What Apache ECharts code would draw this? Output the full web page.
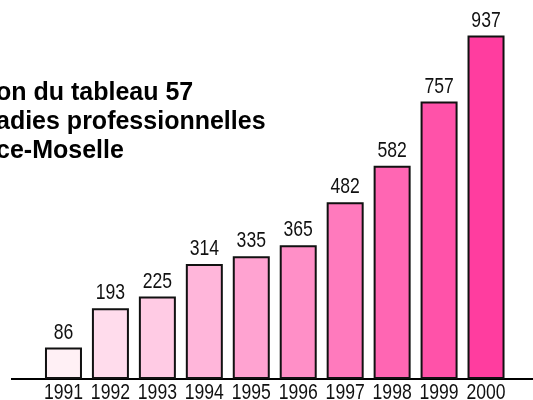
<!DOCTYPE html>
<html>
<head>
<meta charset="utf-8">
<script src="https://cdn.jsdelivr.net/npm/echarts@6/dist/echarts.min.js"></script>
<style>
  html, body { margin: 0; padding: 0; background: #fff; }
  #main { width: 533px; height: 400px; }
</style>
</head>
<body>
<div id="main"></div>
<script>
var chart = echarts.init(document.getElementById('main'));

// données
var years = ['1991', '1992', '1993', '1994', '1995', '1996', '1997', '1998', '1999', '2000'];
var values = [86, 193, 225, 314, 335, 365, 482, 582, 757, 937];
var barColors = ['#fff0f5', '#ffdcec', '#ffcbe4', '#ffb6da', '#ffa3d1', '#ff8fc7', '#ff7abd', '#ff66b3', '#ff52a9', '#ff3d9f'];
var titleLines = ['on du tableau 57', 'adies professionnelles', 'ce-Moselle'];

// texte étroit : pas de police condensée installée, on compresse horizontalement
function narrowText(x, y, txt) {
  return {
    type: 'text',
    x: x,
    y: y,
    scaleX: 0.8,
    style: {
      text: txt,
      fontFamily: "'Liberation Sans', Arial, sans-serif",
      fontSize: 22,
      fill: '#111',
      align: 'center',
      verticalAlign: 'middle'
    }
  };
}

var option = {
  animation: false,
  title: {
    text: titleLines.join('\n'),
    left: -4,
    top: 79,
    padding: 0,
    textStyle: {
      fontFamily: "'Liberation Sans', Arial, sans-serif",
      fontWeight: 'bold',
      fontSize: 25,
      lineHeight: 29,
      color: '#000'
    }
  },
  grid: {
    left: 40,
    right: 23.5,
    top: 12.5,
    bottom: 21
  },
  xAxis: {
    type: 'category',
    data: years,
    axisLine: { show: false },
    axisTick: { show: false },
    axisLabel: { show: false }
  },
  yAxis: {
    type: 'value',
    min: 0,
    max: 1000,
    show: false,
    splitLine: { show: false }
  },
  graphic: [{
    type: 'line',
    shape: { x1: 11, y1: 379, x2: 533, y2: 379 },
    style: { stroke: '#000', lineWidth: 2 },
    z: 1
  }],
  series: [{
    type: 'bar',
    barWidth: 37,
    z: 3,
    data: values.map(function (v, i) {
      return { value: v, itemStyle: { color: barColors[i] } };
    }),
    itemStyle: {
      borderColor: '#111',
      borderWidth: 2
    }
  }, {
    // étiquettes des valeurs et des années
    type: 'custom',
    clip: false,
    z: 4,
    data: values.map(function (v, i) { return [i, v]; }),
    renderItem: function (params, api) {
      var i = api.value(0);
      var v = api.value(1);
      var top = api.coord([i, v]);
      var base = api.coord([i, 0]);
      return {
        type: 'group',
        children: [
          narrowText(top[0], top[1] - 15, String(v)),
          narrowText(base[0], base[1] + 14, years[i])
        ]
      };
    }
  }]
};

option && chart.setOption(option);
</script>
</body>
</html>
